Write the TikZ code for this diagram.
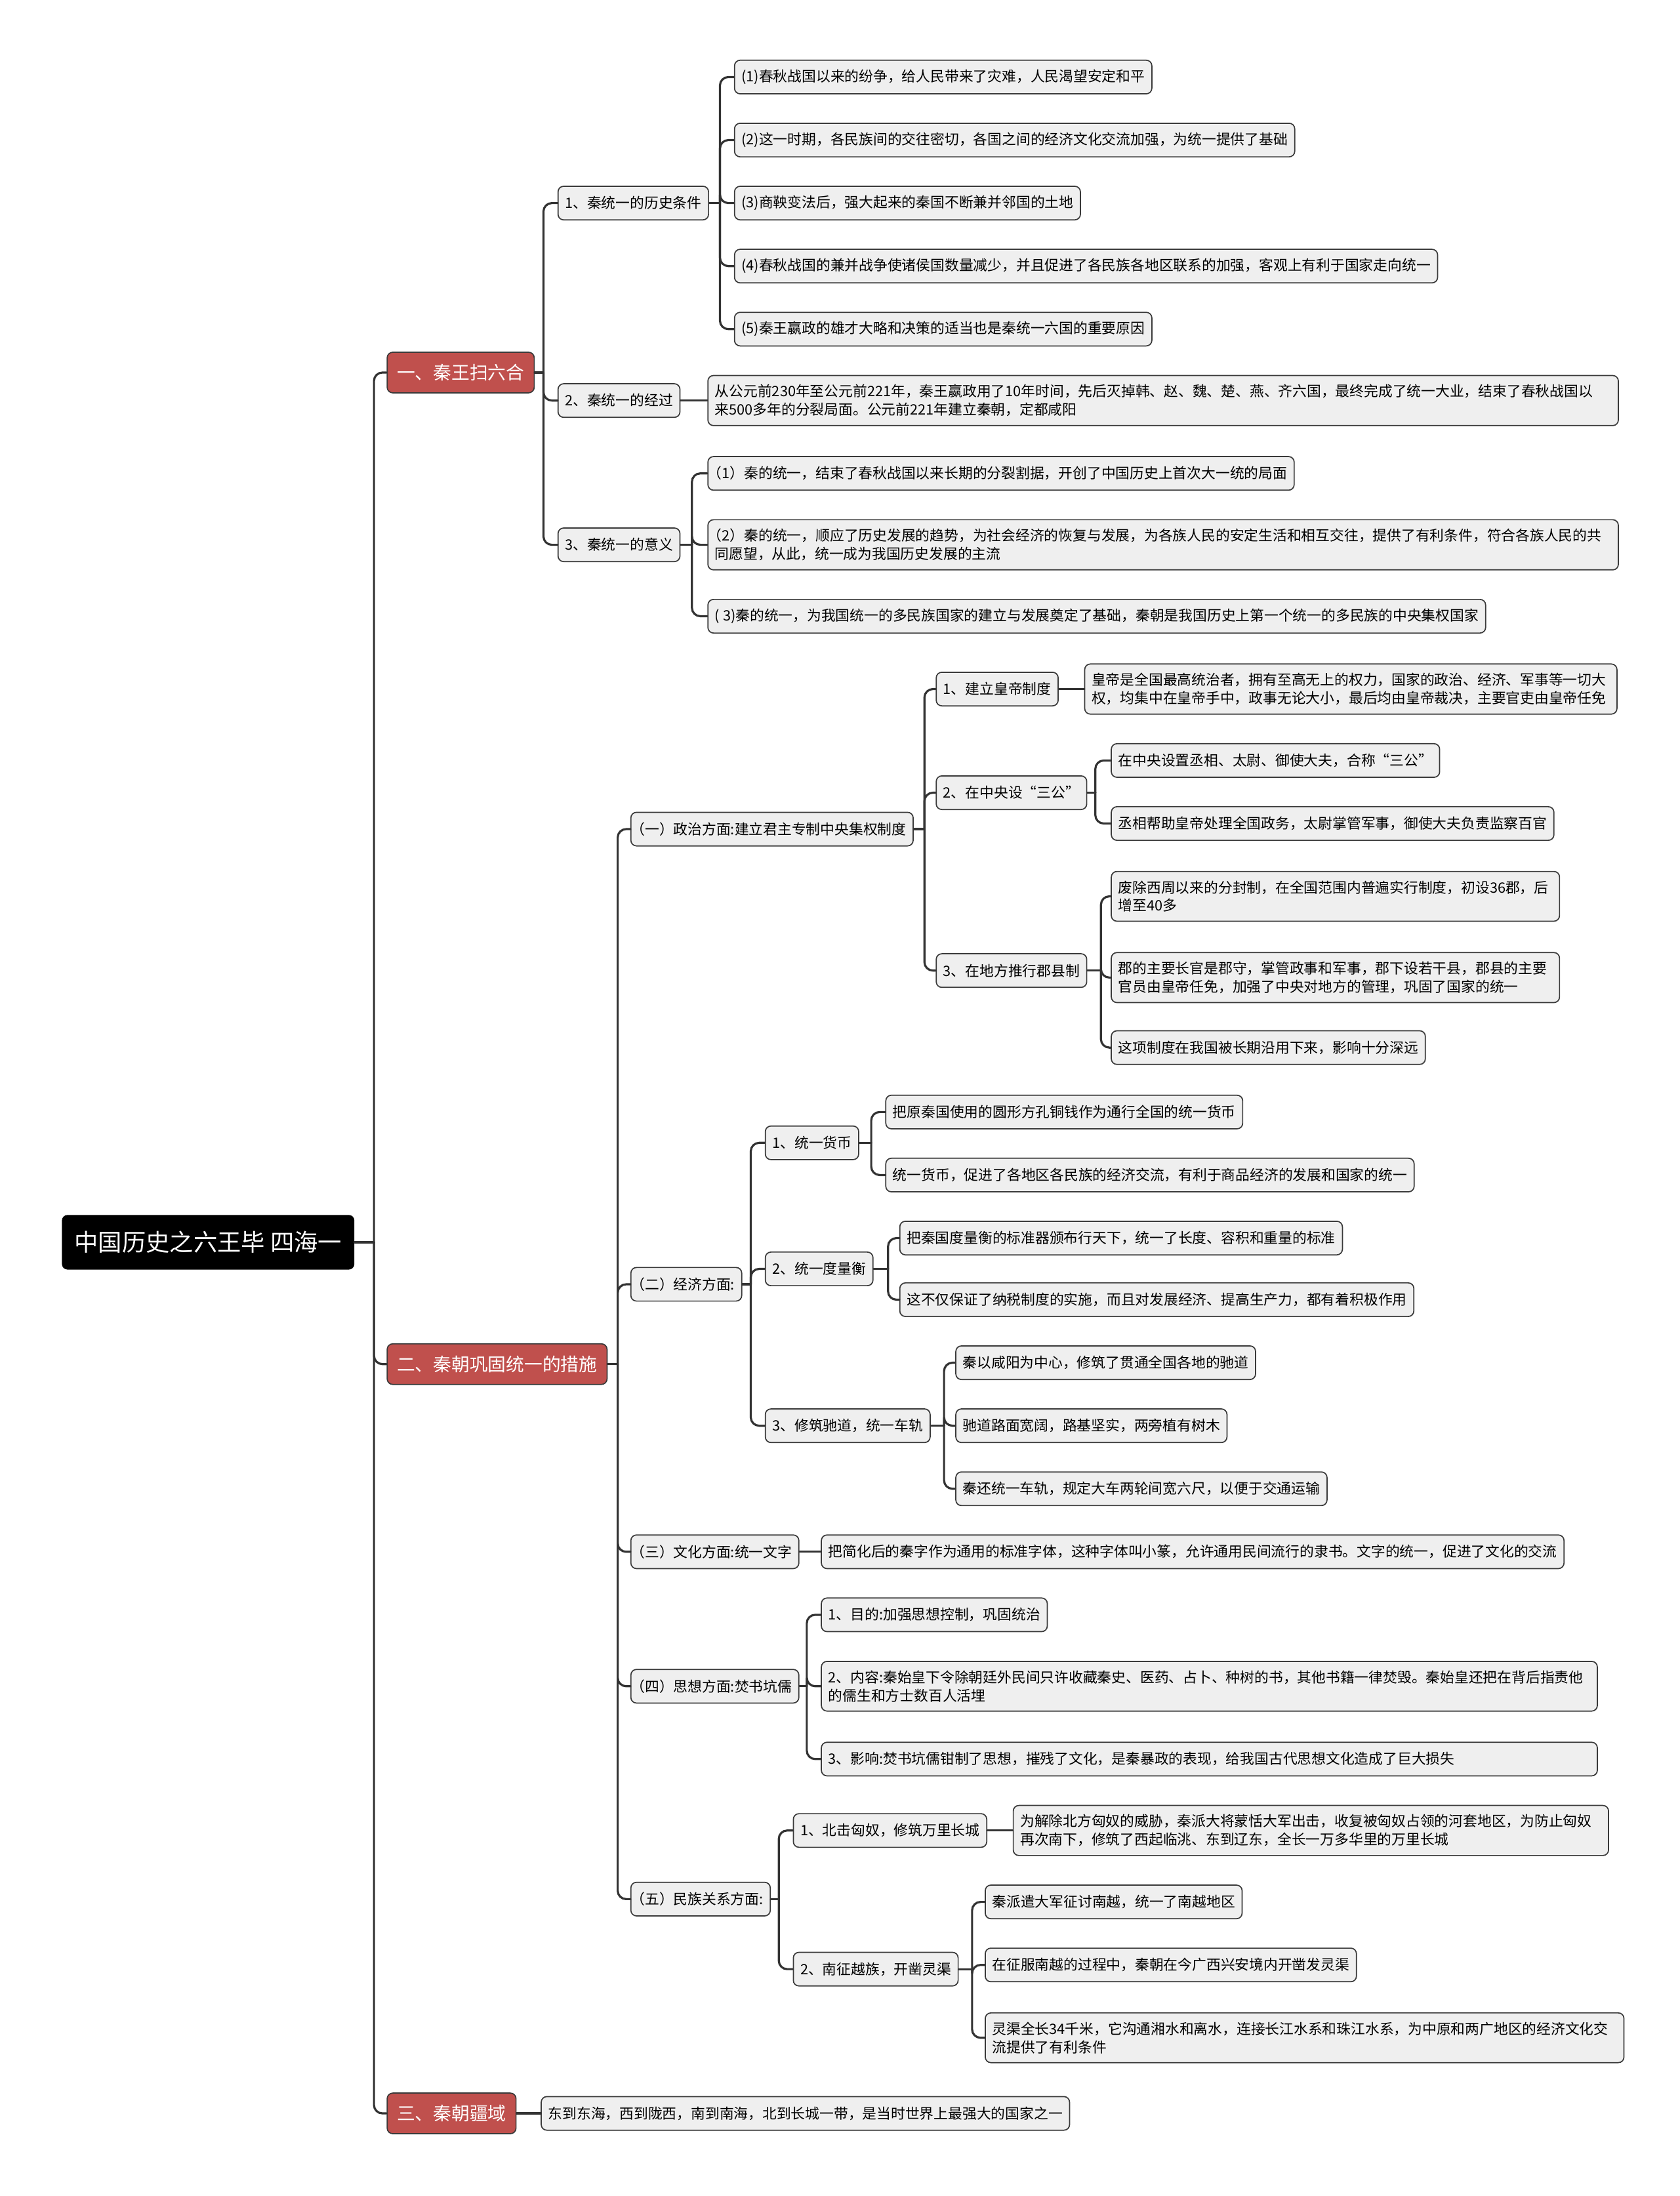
\documentclass[tikz,border=0pt]{standalone}
\usepackage{fontspec}
\setmainfont{Noto Sans CJK SC}
\definecolor{boxfill}{HTML}{EFEFEF}
\definecolor{boxline}{HTML}{3A3A3A}
\definecolor{topicred}{HTML}{C0504D}
\definecolor{linkgray}{HTML}{333333}
\newcommand{\fwopen}{\kern-.5em（}
\tikzset{
  leaf/.style={draw=boxline, fill=boxfill, line width=0.8pt, rounded corners=4pt, anchor=west, align=left, inner xsep=5pt, inner ysep=6.5pt, minimum height=24pt, font=\fontsize{10.2}{13}\selectfont},
  topic/.style={draw=boxline, fill=topicred, text=white, line width=0.8pt, rounded corners=4pt, anchor=west, inner xsep=7pt, minimum height=29pt, font=\fontsize{13}{15}\selectfont},
  rootbox/.style={fill=black, text=white, rounded corners=4pt, anchor=west, inner xsep=9pt, minimum height=39pt, font=\fontsize{17}{20}\selectfont},
  link/.style={draw=linkgray, line width=1.5pt, line cap=round, rounded corners=6pt}
}
\begin{document}
\begin{tikzpicture}[x=1pt,y=-1pt]
\useasboundingbox (0,0) rectangle (1199,1568);
\node[rootbox] (root) at (44,887) {中国历史之六王毕 四海一};
\node[topic] (qin1) at (276,266) {一、秦王扫六合};
\node[topic] (qin2) at (276,974) {二、秦朝巩固统一的措施};
\node[topic] (qin3) at (276,1509) {三、秦朝疆域};

\node[leaf] (cond) at (398,145) {1、秦统一的历史条件};
\node[leaf] (proc) at (398,286) {2、秦统一的经过};
\node[leaf] (mean) at (398,389) {3、秦统一的意义};
\node[leaf] (cond1) at (524,55) {(1)春秋战国以来的纷争，给人民带来了灾难，人民渴望安定和平};
\node[leaf] (cond2) at (524,100) {(2)这一时期，各民族间的交往密切，各国之间的经济文化交流加强，为统一提供了基础};
\node[leaf] (cond3) at (524,145) {(3)商鞅变法后，强大起来的秦国不断兼并邻国的土地};
\node[leaf] (cond4) at (524,190) {(4)春秋战国的兼并战争使诸侯国数量减少，并且促进了各民族各地区联系的加强，客观上有利于国家走向统一};
\node[leaf] (cond5) at (524,235) {(5)秦王嬴政的雄才大略和决策的适当也是秦统一六国的重要原因};
\node[leaf, text width=640pt] (proc1) at (505,286) {从公元前230年至公元前221年，秦王嬴政用了10年时间，先后灭掉韩、赵、魏、楚、燕、齐六国，最终完成了统一大业，结束了春秋战国以\\来500多年的分裂局面。公元前221年建立秦朝，定都咸阳};
\node[leaf] (mean1) at (505,338) {\fwopen 1）秦的统一，结束了春秋战国以来长期的分裂割据，开创了中国历史上首次大一统的局面};
\node[leaf, text width=640pt] (mean2) at (505,389) {\fwopen 2）秦的统一，顺应了历史发展的趋势，为社会经济的恢复与发展，为各族人民的安定生活和相互交往，提供了有利条件，符合各族人民的共\\同愿望，从此，统一成为我国历史发展的主流};
\node[leaf] (mean3) at (505,440) {( 3)秦的统一，为我国统一的多民族国家的建立与发展奠定了基础，秦朝是我国历史上第一个统一的多民族的中央集权国家};

\node[leaf] (pol) at (450,592) {\fwopen 一）政治方面:建立君主专制中央集权制度};
\node[leaf] (eco) at (450,917) {\fwopen 二）经济方面:};
\node[leaf] (cul) at (450,1108) {\fwopen 三）文化方面:统一文字};
\node[leaf] (tho) at (450,1204) {\fwopen 四）思想方面:焚书坑儒};
\node[leaf] (eth) at (450,1356) {\fwopen 五）民族关系方面:};

\node[leaf] (emp) at (668,492) {1、建立皇帝制度};
\node[leaf] (sang) at (668,566) {2、在中央设“三公”};
\node[leaf] (jun) at (668,693) {3、在地方推行郡县制};
\node[leaf, text width=370pt] (emp1) at (774,492) {皇帝是全国最高统治者，拥有至高无上的权力，国家的政治、经济、军事等一切大\\权，均集中在皇帝手中，政事无论大小，最后均由皇帝裁决，主要官吏由皇帝任免};
\node[leaf] (sang1) at (793,543) {在中央设置丞相、太尉、御使大夫，合称“三公”};
\node[leaf] (sang2) at (793,588) {丞相帮助皇帝处理全国政务，太尉掌管军事，御使大夫负责监察百官};
\node[leaf, text width=310pt] (jun1) at (793,640) {废除西周以来的分封制，在全国范围内普遍实行制度，初设36郡，后\\增至40多};
\node[leaf, text width=310pt] (jun2) at (793,698) {郡的主要长官是郡守，掌管政事和军事，郡下设若干县，郡县的主要\\官员由皇帝任免，加强了中央对地方的管理，巩固了国家的统一};
\node[leaf] (jun3) at (793,748) {这项制度在我国被长期沿用下来，影响十分深远};

\node[leaf] (coin) at (546,816) {1、统一货币};
\node[leaf] (meas) at (546,906) {2、统一度量衡};
\node[leaf] (road) at (546,1018) {3、修筑驰道，统一车轨};
\node[leaf] (coin1) at (632,794) {把原秦国使用的圆形方孔铜钱作为通行全国的统一货币};
\node[leaf] (coin2) at (632,839) {统一货币，促进了各地区各民族的经济交流，有利于商品经济的发展和国家的统一};
\node[leaf] (meas1) at (642,884) {把秦国度量衡的标准器颁布行天下，统一了长度、容积和重量的标准};
\node[leaf] (meas2) at (642,928) {这不仅保证了纳税制度的实施，而且对发展经济、提高生产力，都有着积极作用};
\node[leaf] (road1) at (682,973) {秦以咸阳为中心，修筑了贯通全国各地的驰道};
\node[leaf] (road2) at (682,1018) {驰道路面宽阔，路基坚实，两旁植有树木};
\node[leaf] (road3) at (682,1063) {秦还统一车轨，规定大车两轮间宽六尺，以便于交通运输};

\node[leaf] (cul1) at (586,1108) {把简化后的秦字作为通用的标准字体，这种字体叫小篆，允许通用民间流行的隶书。文字的统一，促进了文化的交流};

\node[leaf] (tho1) at (586,1153) {1、目的:加强思想控制，巩固统治};
\node[leaf, text width=544pt] (tho2) at (586,1204) {2、内容:秦始皇下令除朝廷外民间只许收藏秦史、医药、占卜、种树的书，其他书籍一律焚毁。秦始皇还把在背后指责他\\的儒生和方士数百人活埋};
\node[leaf, text width=544pt] (tho3) at (586,1256) {3、影响:焚书坑儒钳制了思想，摧残了文化，是秦暴政的表现，给我国古代思想文化造成了巨大损失};

\node[leaf] (wall) at (566,1307) {1、北击匈奴，修筑万里长城};
\node[leaf] (yue) at (566,1406) {2、南征越族，开凿灵渠};
\node[leaf, text width=415pt] (wall1) at (723,1307) {为解除北方匈奴的威胁，秦派大将蒙恬大军出击，收复被匈奴占领的河套地区，为防止匈奴\\再次南下，修筑了西起临洮、东到辽东，全长一万多华里的万里长城};
\node[leaf] (yue1) at (703,1358) {秦派遣大军征讨南越，统一了南越地区};
\node[leaf] (yue2) at (703,1403) {在征服南越的过程中，秦朝在今广西兴安境内开凿发灵渠};
\node[leaf, text width=446pt] (yue3) at (703,1455) {灵渠全长34千米，它沟通湘水和离水，连接长江水系和珠江水系，为中原和两广地区的经济文化交\\流提供了有利条件};

\node[leaf] (terr) at (386,1509) {东到东海，西到陇西，南到南海，北到长城一带，是当时世界上最强大的国家之一};

\coordinate (jroot) at (267,887);
\coordinate (jqin1) at (388,266);
\coordinate (jqin2) at (441,974);
\coordinate (jcond) at (514,145);
\coordinate (jmean) at (494,389);
\coordinate (jpol) at (660,592);
\coordinate (jsang) at (782,566);
\coordinate (jjun) at (786,693);
\coordinate (jeco) at (536,917);
\coordinate (jcoin) at (622,816);
\coordinate (jmeas) at (634,906);
\coordinate (jroad) at (674,1018);
\coordinate (jtho) at (576,1204);
\coordinate (jeth) at (556,1356);
\coordinate (jyue) at (694,1406);

\draw[link] (root.east) -- (jroot);
\draw[link] (jroot) |- (qin1.west);
\draw[link] (jroot) |- (qin2.west);
\draw[link] (jroot) |- (qin3.west);

\draw[link] (qin1.east) -- (jqin1);
\draw[link] (jqin1) |- (cond.west);
\draw[link] (jqin1) |- (proc.west);
\draw[link] (jqin1) |- (mean.west);
\draw[link] (cond.east) -- (jcond);
\draw[link] (jcond) |- (cond1.west);
\draw[link] (jcond) |- (cond2.west);
\draw[link] (jcond) |- (cond3.west);
\draw[link] (jcond) |- (cond4.west);
\draw[link] (jcond) |- (cond5.west);
\draw[link] (proc.east) -- (proc1.west);
\draw[link] (mean.east) -- (jmean);
\draw[link] (jmean) |- (mean1.west);
\draw[link] (jmean) |- (mean2.west);
\draw[link] (jmean) |- (mean3.west);

\draw[link] (qin2.east) -- (jqin2);
\draw[link] (jqin2) |- (pol.west);
\draw[link] (jqin2) |- (eco.west);
\draw[link] (jqin2) |- (cul.west);
\draw[link] (jqin2) |- (tho.west);
\draw[link] (jqin2) |- (eth.west);

\draw[link] (pol.east) -- (jpol);
\draw[link] (jpol) |- (emp.west);
\draw[link] (jpol) |- (sang.west);
\draw[link] (jpol) |- (jun.west);
\draw[link] (emp.east) -- (emp1.west);
\draw[link] (sang.east) -- (jsang);
\draw[link] (jsang) |- (sang1.west);
\draw[link] (jsang) |- (sang2.west);
\draw[link] (jun.east) -- (jjun);
\draw[link] (jjun) |- (jun1.west);
\draw[link] (jjun) |- (jun2.west);
\draw[link] (jjun) |- (jun3.west);

\draw[link] (eco.east) -- (jeco);
\draw[link] (jeco) |- (coin.west);
\draw[link] (jeco) |- (meas.west);
\draw[link] (jeco) |- (road.west);
\draw[link] (coin.east) -- (jcoin);
\draw[link] (jcoin) |- (coin1.west);
\draw[link] (jcoin) |- (coin2.west);
\draw[link] (meas.east) -- (jmeas);
\draw[link] (jmeas) |- (meas1.west);
\draw[link] (jmeas) |- (meas2.west);
\draw[link] (road.east) -- (jroad);
\draw[link] (jroad) |- (road1.west);
\draw[link] (jroad) |- (road2.west);
\draw[link] (jroad) |- (road3.west);

\draw[link] (cul.east) -- (cul1.west);

\draw[link] (tho.east) -- (jtho);
\draw[link] (jtho) |- (tho1.west);
\draw[link] (jtho) |- (tho2.west);
\draw[link] (jtho) |- (tho3.west);

\draw[link] (eth.east) -- (jeth);
\draw[link] (jeth) |- (wall.west);
\draw[link] (jeth) |- (yue.west);
\draw[link] (wall.east) -- (wall1.west);
\draw[link] (yue.east) -- (jyue);
\draw[link] (jyue) |- (yue1.west);
\draw[link] (jyue) |- (yue2.west);
\draw[link] (jyue) |- (yue3.west);

\draw[link] (qin3.east) -- (terr.west);
\end{tikzpicture}
\end{document}
